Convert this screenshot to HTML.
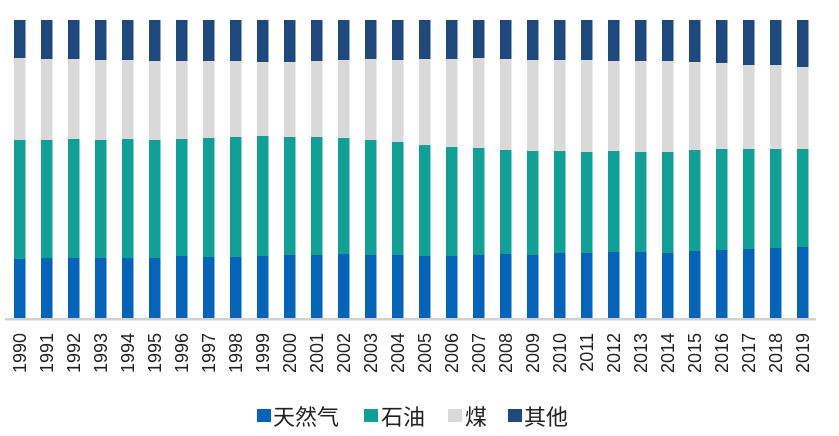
<!DOCTYPE html>
<html><head><meta charset="utf-8"><style>
html,body{margin:0;padding:0;background:#fff;width:839px;height:436px;overflow:hidden}
svg{display:block;font-family:"Liberation Sans","Noto Sans CJK SC",sans-serif}
</style></head><body>
<svg width="839" height="436" viewBox="0 0 839 436">
<g id="bars">
<g transform="translate(14,0)"><rect y="20" width="11.5" height="298" fill="#1f497d"/><rect y="58" width="11.5" height="260" fill="#d9d9d9"/><rect y="140" width="11.5" height="178" fill="#12a096"/><rect y="259" width="11.5" height="59" fill="#0563b8"/></g>
<g transform="translate(41,0)"><rect y="20" width="11.5" height="298" fill="#1f497d"/><rect y="59" width="11.5" height="259" fill="#d9d9d9"/><rect y="140" width="11.5" height="178" fill="#12a096"/><rect y="258" width="11.5" height="60" fill="#0563b8"/></g>
<g transform="translate(68,0)"><rect y="20" width="11.5" height="298" fill="#1f497d"/><rect y="59" width="11.5" height="259" fill="#d9d9d9"/><rect y="139" width="11.5" height="179" fill="#12a096"/><rect y="258" width="11.5" height="60" fill="#0563b8"/></g>
<g transform="translate(95,0)"><rect y="20" width="11.5" height="298" fill="#1f497d"/><rect y="60" width="11.5" height="258" fill="#d9d9d9"/><rect y="140" width="11.5" height="178" fill="#12a096"/><rect y="258" width="11.5" height="60" fill="#0563b8"/></g>
<g transform="translate(122,0)"><rect y="20" width="11.5" height="298" fill="#1f497d"/><rect y="60" width="11.5" height="258" fill="#d9d9d9"/><rect y="139" width="11.5" height="179" fill="#12a096"/><rect y="258" width="11.5" height="60" fill="#0563b8"/></g>
<g transform="translate(149,0)"><rect y="20" width="11.5" height="298" fill="#1f497d"/><rect y="61" width="11.5" height="257" fill="#d9d9d9"/><rect y="140" width="11.5" height="178" fill="#12a096"/><rect y="258" width="11.5" height="60" fill="#0563b8"/></g>
<g transform="translate(176,0)"><rect y="20" width="11.5" height="298" fill="#1f497d"/><rect y="61" width="11.5" height="257" fill="#d9d9d9"/><rect y="139" width="11.5" height="179" fill="#12a096"/><rect y="256" width="11.5" height="62" fill="#0563b8"/></g>
<g transform="translate(203,0)"><rect y="20" width="11.5" height="298" fill="#1f497d"/><rect y="61" width="11.5" height="257" fill="#d9d9d9"/><rect y="138" width="11.5" height="180" fill="#12a096"/><rect y="257" width="11.5" height="61" fill="#0563b8"/></g>
<g transform="translate(230,0)"><rect y="20" width="11.5" height="298" fill="#1f497d"/><rect y="61" width="11.5" height="257" fill="#d9d9d9"/><rect y="137" width="11.5" height="181" fill="#12a096"/><rect y="257" width="11.5" height="61" fill="#0563b8"/></g>
<g transform="translate(257,0)"><rect y="20" width="11.5" height="298" fill="#1f497d"/><rect y="62" width="11.5" height="256" fill="#d9d9d9"/><rect y="136" width="11.5" height="182" fill="#12a096"/><rect y="256" width="11.5" height="62" fill="#0563b8"/></g>
<g transform="translate(284,0)"><rect y="20" width="11.5" height="298" fill="#1f497d"/><rect y="62" width="11.5" height="256" fill="#d9d9d9"/><rect y="137" width="11.5" height="181" fill="#12a096"/><rect y="255" width="11.5" height="63" fill="#0563b8"/></g>
<g transform="translate(311,0)"><rect y="20" width="11.5" height="298" fill="#1f497d"/><rect y="61" width="11.5" height="257" fill="#d9d9d9"/><rect y="137" width="11.5" height="181" fill="#12a096"/><rect y="255" width="11.5" height="63" fill="#0563b8"/></g>
<g transform="translate(338,0)"><rect y="20" width="11.5" height="298" fill="#1f497d"/><rect y="60" width="11.5" height="258" fill="#d9d9d9"/><rect y="138" width="11.5" height="180" fill="#12a096"/><rect y="254" width="11.5" height="64" fill="#0563b8"/></g>
<g transform="translate(365,0)"><rect y="20" width="11.5" height="298" fill="#1f497d"/><rect y="59" width="11.5" height="259" fill="#d9d9d9"/><rect y="140" width="11.5" height="178" fill="#12a096"/><rect y="255" width="11.5" height="63" fill="#0563b8"/></g>
<g transform="translate(392,0)"><rect y="20" width="11.5" height="298" fill="#1f497d"/><rect y="60" width="11.5" height="258" fill="#d9d9d9"/><rect y="142" width="11.5" height="176" fill="#12a096"/><rect y="255" width="11.5" height="63" fill="#0563b8"/></g>
<g transform="translate(419,0)"><rect y="20" width="11.5" height="298" fill="#1f497d"/><rect y="59" width="11.5" height="259" fill="#d9d9d9"/><rect y="145" width="11.5" height="173" fill="#12a096"/><rect y="256" width="11.5" height="62" fill="#0563b8"/></g>
<g transform="translate(446,0)"><rect y="20" width="11.5" height="298" fill="#1f497d"/><rect y="59" width="11.5" height="259" fill="#d9d9d9"/><rect y="147" width="11.5" height="171" fill="#12a096"/><rect y="256" width="11.5" height="62" fill="#0563b8"/></g>
<g transform="translate(473,0)"><rect y="20" width="11.5" height="298" fill="#1f497d"/><rect y="58" width="11.5" height="260" fill="#d9d9d9"/><rect y="148" width="11.5" height="170" fill="#12a096"/><rect y="255" width="11.5" height="63" fill="#0563b8"/></g>
<g transform="translate(500,0)"><rect y="20" width="11.5" height="298" fill="#1f497d"/><rect y="59" width="11.5" height="259" fill="#d9d9d9"/><rect y="150" width="11.5" height="168" fill="#12a096"/><rect y="254" width="11.5" height="64" fill="#0563b8"/></g>
<g transform="translate(527,0)"><rect y="20" width="11.5" height="298" fill="#1f497d"/><rect y="60" width="11.5" height="258" fill="#d9d9d9"/><rect y="151" width="11.5" height="167" fill="#12a096"/><rect y="255" width="11.5" height="63" fill="#0563b8"/></g>
<g transform="translate(554,0)"><rect y="20" width="11.5" height="298" fill="#1f497d"/><rect y="60" width="11.5" height="258" fill="#d9d9d9"/><rect y="151" width="11.5" height="167" fill="#12a096"/><rect y="253" width="11.5" height="65" fill="#0563b8"/></g>
<g transform="translate(581,0)"><rect y="20" width="11.5" height="298" fill="#1f497d"/><rect y="60" width="11.5" height="258" fill="#d9d9d9"/><rect y="152" width="11.5" height="166" fill="#12a096"/><rect y="253" width="11.5" height="65" fill="#0563b8"/></g>
<g transform="translate(608,0)"><rect y="20" width="11.5" height="298" fill="#1f497d"/><rect y="61" width="11.5" height="257" fill="#d9d9d9"/><rect y="151" width="11.5" height="167" fill="#12a096"/><rect y="252" width="11.5" height="66" fill="#0563b8"/></g>
<g transform="translate(635,0)"><rect y="20" width="11.5" height="298" fill="#1f497d"/><rect y="61" width="11.5" height="257" fill="#d9d9d9"/><rect y="152" width="11.5" height="166" fill="#12a096"/><rect y="252" width="11.5" height="66" fill="#0563b8"/></g>
<g transform="translate(662,0)"><rect y="20" width="11.5" height="298" fill="#1f497d"/><rect y="61" width="11.5" height="257" fill="#d9d9d9"/><rect y="152" width="11.5" height="166" fill="#12a096"/><rect y="253" width="11.5" height="65" fill="#0563b8"/></g>
<g transform="translate(689,0)"><rect y="20" width="11.5" height="298" fill="#1f497d"/><rect y="62" width="11.5" height="256" fill="#d9d9d9"/><rect y="150" width="11.5" height="168" fill="#12a096"/><rect y="251" width="11.5" height="67" fill="#0563b8"/></g>
<g transform="translate(716,0)"><rect y="20" width="11.5" height="298" fill="#1f497d"/><rect y="63" width="11.5" height="255" fill="#d9d9d9"/><rect y="149" width="11.5" height="169" fill="#12a096"/><rect y="250" width="11.5" height="68" fill="#0563b8"/></g>
<g transform="translate(743,0)"><rect y="20" width="11.5" height="298" fill="#1f497d"/><rect y="65" width="11.5" height="253" fill="#d9d9d9"/><rect y="149" width="11.5" height="169" fill="#12a096"/><rect y="249" width="11.5" height="69" fill="#0563b8"/></g>
<g transform="translate(770,0)"><rect y="20" width="11.5" height="298" fill="#1f497d"/><rect y="65" width="11.5" height="253" fill="#d9d9d9"/><rect y="149" width="11.5" height="169" fill="#12a096"/><rect y="248" width="11.5" height="70" fill="#0563b8"/></g>
<g transform="translate(797,0)"><rect y="20" width="11.5" height="298" fill="#1f497d"/><rect y="67" width="11.5" height="251" fill="#d9d9d9"/><rect y="149" width="11.5" height="169" fill="#12a096"/><rect y="247" width="11.5" height="71" fill="#0563b8"/></g>
</g>
<rect x="5" y="318" width="811" height="2.5" fill="#d0d0d0"/>
<g font-size="18" fill="#222" text-anchor="end">
<text transform="translate(26,333) rotate(-90)">1990</text>
<text transform="translate(53,333) rotate(-90)">1991</text>
<text transform="translate(80,333) rotate(-90)">1992</text>
<text transform="translate(107,333) rotate(-90)">1993</text>
<text transform="translate(134,333) rotate(-90)">1994</text>
<text transform="translate(161,333) rotate(-90)">1995</text>
<text transform="translate(188,333) rotate(-90)">1996</text>
<text transform="translate(215,333) rotate(-90)">1997</text>
<text transform="translate(242,333) rotate(-90)">1998</text>
<text transform="translate(269,333) rotate(-90)">1999</text>
<text transform="translate(296,333) rotate(-90)">2000</text>
<text transform="translate(323,333) rotate(-90)">2001</text>
<text transform="translate(350,333) rotate(-90)">2002</text>
<text transform="translate(377,333) rotate(-90)">2003</text>
<text transform="translate(404,333) rotate(-90)">2004</text>
<text transform="translate(431,333) rotate(-90)">2005</text>
<text transform="translate(458,333) rotate(-90)">2006</text>
<text transform="translate(485,333) rotate(-90)">2007</text>
<text transform="translate(512,333) rotate(-90)">2008</text>
<text transform="translate(539,333) rotate(-90)">2009</text>
<text transform="translate(566,333) rotate(-90)">2010</text>
<text transform="translate(593,333) rotate(-90)">2011</text>
<text transform="translate(620,333) rotate(-90)">2012</text>
<text transform="translate(647,333) rotate(-90)">2013</text>
<text transform="translate(674,333) rotate(-90)">2014</text>
<text transform="translate(701,333) rotate(-90)">2015</text>
<text transform="translate(728,333) rotate(-90)">2016</text>
<text transform="translate(755,333) rotate(-90)">2017</text>
<text transform="translate(782,333) rotate(-90)">2018</text>
<text transform="translate(809,333) rotate(-90)">2019</text>
</g>
<g font-size="22" fill="#222">
<rect x="257" y="409" width="14" height="13" fill="#0563b8"/><text x="273" y="425">天然气</text>
<rect x="364" y="409" width="14" height="13" fill="#12a096"/><text x="381" y="425">石油</text>
<rect x="448" y="409" width="14" height="13" fill="#d9d9d9"/><text x="465" y="425">煤</text>
<rect x="508" y="409" width="14" height="13" fill="#1f497d"/><text x="524" y="425">其他</text>
</g>
</svg>
</body></html>
